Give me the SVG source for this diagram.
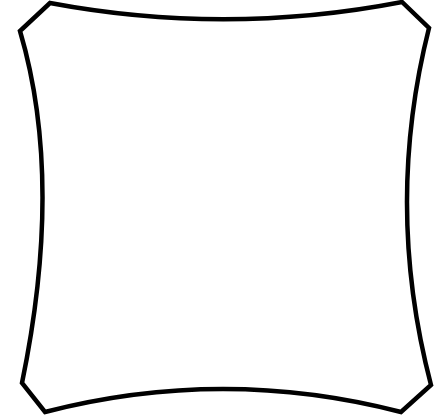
<svg xmlns="http://www.w3.org/2000/svg" width="434" height="416" viewBox="0 0 434 416">
<style>.sail{fill:#fff;stroke:#000;stroke-width:4.5;stroke-linejoin:miter}</style>
<rect width="434" height="416" fill="#fff"/>
<g id="sail">
<path class="sail" d="M50,3 Q226,36 402,2 L429,28 Q384,206 431,385 L401,412 Q223,366 45,412 L22,383 Q64,180 20,31 Z"/>
</g>
</svg>
